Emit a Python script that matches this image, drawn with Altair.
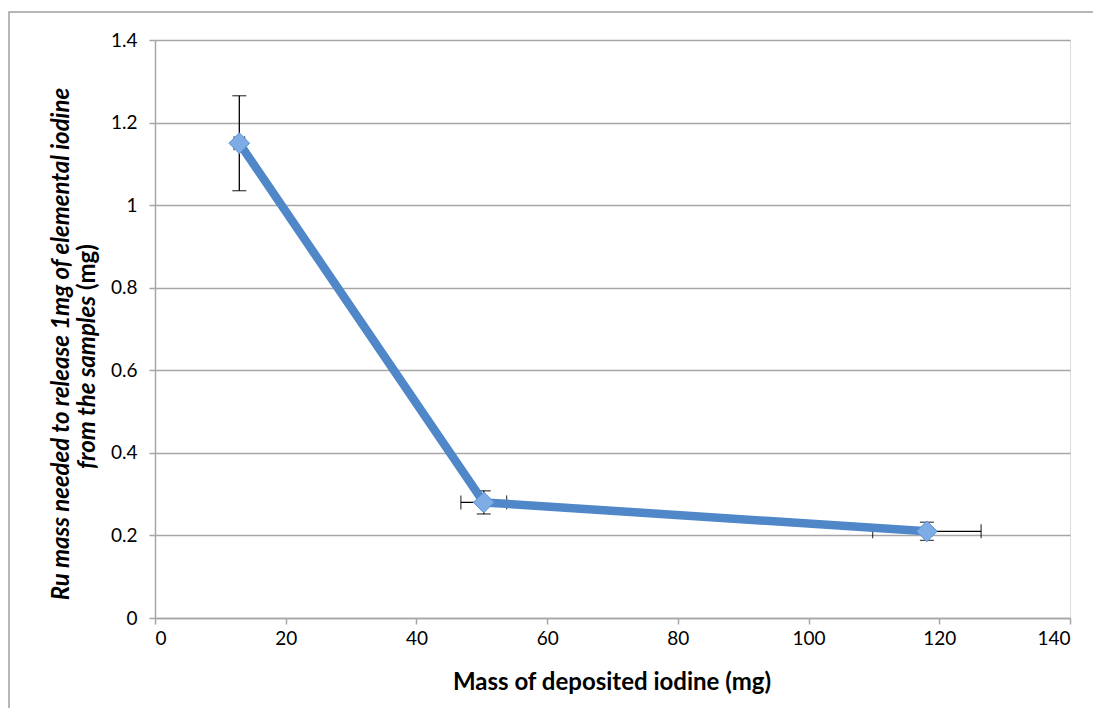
import altair as alt
import pandas as pd

# Data
mass_iodine = [12.9, 50.3, 118.1]            # x (mg)
ru_mass = [1.15, 0.28, 0.21]                  # y (mg)
y_err = [0.115, 0.028, 0.022]
x_err = [0.8, 3.5, 8.3]

df = pd.DataFrame({"x": mass_iodine, "y": ru_mass, "ye": y_err, "xe": x_err})
df["ylo"] = df["y"] - df["ye"]
df["yhi"] = df["y"] + df["ye"]
df["xlo"] = df["x"] - df["xe"]
df["xhi"] = df["x"] + df["xe"]

FONT = "Lato"
GRAY = "#A6A6A6"

xs = alt.Scale(domain=[0, 140], nice=False)
ys = alt.Scale(domain=[0, 1.4], nice=False)

xaxis = alt.Axis(values=[0, 20, 40, 60, 80, 100, 120, 140], grid=False, title=None,
                 labelFont=FONT, labelFontSize=19, labelColor="#000", labelPadding=5,
                 domainColor=GRAY, domainWidth=1.5, tickColor=GRAY, tickSize=6, tickWidth=1.5)
yaxis = alt.Axis(values=[0, 0.2, 0.4, 0.6, 0.8, 1.0, 1.2, 1.4], grid=True, gridColor=GRAY,
                 gridWidth=1.3, title=None, labelFont=FONT, labelFontSize=19, labelColor="#000",
                 labelPadding=12,
                 labelExpr="datum.value == 0 ? '0' : (datum.value == 1 ? '1' : format(datum.value, '.1f'))",
                 domainColor=GRAY, domainWidth=1.5, tickColor=GRAY, tickSize=6, tickWidth=1.5)

base = alt.Chart(df)

frame = alt.Chart(pd.DataFrame({"k": [0]})).mark_rect(
    fill=None, stroke="#A0A0A0", strokeWidth=1.5
).encode(x=alt.value(-146), x2=alt.value(1300), y=alt.value(-28), y2=alt.value(900))

yerr = base.mark_rule(color="#000", strokeWidth=1.3).encode(
    x=alt.X("x:Q", scale=xs, axis=xaxis), y=alt.Y("ylo:Q", scale=ys, axis=yaxis), y2="yhi:Q")
ycap_lo = base.mark_tick(color="#000", orient="horizontal", size=14, thickness=1.3).encode(
    x=alt.X("x:Q", scale=xs), y=alt.Y("ylo:Q", scale=ys))
ycap_hi = base.mark_tick(color="#000", orient="horizontal", size=14, thickness=1.3).encode(
    x=alt.X("x:Q", scale=xs), y=alt.Y("yhi:Q", scale=ys))
xerr = base.mark_rule(color="#000", strokeWidth=1.3).encode(
    y=alt.Y("y:Q", scale=ys), x=alt.X("xlo:Q", scale=xs), x2="xhi:Q")
xcap_lo = base.mark_tick(color="#000", orient="vertical", size=14, thickness=1.3).encode(
    x=alt.X("xlo:Q", scale=xs), y=alt.Y("y:Q", scale=ys))
xcap_hi = base.mark_tick(color="#000", orient="vertical", size=14, thickness=1.3).encode(
    x=alt.X("xhi:Q", scale=xs), y=alt.Y("y:Q", scale=ys))

line = base.mark_line(color="#4F87C8", strokeWidth=8.5, strokeJoin="round").encode(
    x=alt.X("x:Q", scale=xs), y=alt.Y("y:Q", scale=ys))
pts = base.mark_point(shape="diamond", filled=True, size=430, color="#7EACE5", opacity=1,
                      stroke="#5B93D6", strokeWidth=1).encode(
    x=alt.X("x:Q", scale=xs), y=alt.Y("y:Q", scale=ys))

tdf = pd.DataFrame({"k": [0]})
xtitle = alt.Chart(tdf).mark_text(text="Mass of deposited iodine (mg)", font=FONT,
                                  fontSize=24, fontWeight="bold", color="#000",
                                  align="center", baseline="middle").encode(
    x=alt.value(457), y=alt.value(643))
ytitle1 = alt.Chart(tdf).mark_text(text="Ru mass needed to release 1mg of elemental iodine",
                                   font=FONT, fontSize=24, fontWeight="bold", fontStyle="italic",
                                   color="#000", angle=270, align="center", baseline="middle").encode(
    x=alt.value(-93), y=alt.value(304))
ytitle2a = alt.Chart(tdf).mark_text(text="from the samples", font=FONT, fontSize=24,
                                    fontWeight="bold", fontStyle="italic", color="#000",
                                    angle=270, align="right", baseline="middle").encode(
    x=alt.value(-67), y=alt.value(256))
ytitle2b = alt.Chart(tdf).mark_text(text="(mg)", font=FONT, fontSize=24, fontWeight="bold",
                                    color="#000", angle=270, align="left",
                                    baseline="middle").encode(
    x=alt.value(-67), y=alt.value(250))

chart = alt.layer(frame, yerr, ycap_lo, ycap_hi, xerr, xcap_lo, xcap_hi, line, pts,
                  xtitle, ytitle1, ytitle2a, ytitle2b).properties(
    width=915, height=578,
    autosize=alt.AutoSizeParams(type="none"),
    padding={"left": 147, "top": 32, "right": 23, "bottom": 90},
).configure_view(stroke=None).configure(background="white")

chart.save("out.html", embed_options={"renderer": "svg", "actions": False})
